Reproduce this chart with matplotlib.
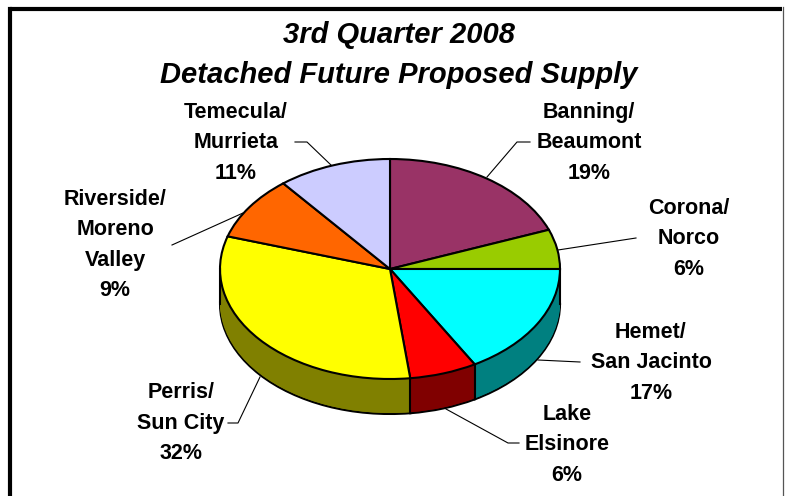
import numpy as np
from matplotlib import pyplot as plt

# Data
cities = ["Banning/\nBeaumont", "Corona/\nNorco", "Hemet/\nSan Jacinto", "Lake\nElsinore",
          "Perris/\nSun City", "Riverside/\nMoreno\nValley", "Temecula/\nMurrieta"]
shares = [19.2, 5.8, 16.7, 6.4, 31.7, 9.4, 10.8]
top_colors = ["#993366", "#99CC00", "#00FFFF", "#FF0000", "#FFFF00", "#FF6600", "#CCCCFF"]
side_colors = ["#4D1A33", "#668000", "#008080", "#800000", "#808000", "#803300", "#666680"]
title_lines = "3rd Quarter 2008\nDetached Future Proposed Supply"

# Where each label sits, in picture pixels
label_pos = [(589, 143), (689, 239), (651, 363), (567, 445), (181, 423), (115, 245), (236, 143)]
leaders = [
    [(487, 177), (517, 142), (530, 142)],
    [(558, 250), (636, 238)],
    [(538, 360), (580, 362)],
    [(446, 409), (508, 443), (519, 443)],
    [(260, 377), (238, 423), (228, 423)],
    [(243, 213), (172, 245)],
    [(332, 166), (307, 142), (295, 142)],
]

W, H = 785, 496
plt.rcParams['font.family'] = ['Liberation Sans', 'DejaVu Sans']
fig = plt.figure(figsize=(W / 100, H / 100), dpi=100)

# Pixel axes for the frame, the text and the leader lines
bg = fig.add_axes([0, 0, 1, 1])
bg.set_xlim(0, W)
bg.set_ylim(H, 0)
bg.axis('off')
bg.plot([10, 10], [9, H], color="black", linewidth=3.0, solid_capstyle="projecting")
bg.plot([10, 782], [9, 9], color="black", linewidth=3.0, solid_capstyle="butt")
bg.plot([783, 783], [7, H], color="#555555", linewidth=0.9)

bg.text(399, 55, title_lines, ha="center", va="center", fontsize=21, fontweight="bold",
        fontstyle="italic", linespacing=1.55)

for name, share, pos, line in zip(cities, shares, label_pos, leaders):
    bg.text(pos[0], pos[1], name + "\n" + "%.0f%%" % share, ha="center", va="center",
            fontsize=15.5, fontweight="bold", linespacing=1.58)
    xs, ys = zip(*line)
    bg.plot(xs, ys, color="black", linewidth=0.8)

# Pie axes, stretched so the circle becomes the tilted ellipse
rx, ry, depth_px = 170, 110, 35
cx, cy = 390, 269
depth = depth_px / ry
xpad, ybot = 1.05, 1.45
left = (cx - rx * xpad) / W
width = 2 * rx * xpad / W
bottom = 1 - (cy + ry * ybot) / H
height = ry * (ybot + xpad) / H
ax = fig.add_axes([left, bottom, width, height])
ax.patch.set_alpha(0)

pie_args = dict(startangle=90, counterclock=False, radius=1)
ax.pie(shares, colors=side_colors, center=(0, -depth),
       wedgeprops=dict(edgecolor="black", linewidth=1.5), **pie_args)
for d in np.arange(depth - 1 / ry, 0, -1 / ry):
    ax.pie(shares, colors=side_colors, center=(0, -d), **pie_args)
wedges, _ = ax.pie(shares, colors=top_colors,
                   wedgeprops=dict(edgecolor="black", linewidth=1.5), **pie_args)

# Upright edges along the front of the rim
ax.plot([-1, -1], [0, -depth], color="black", linewidth=1.5)
ax.plot([1, 1], [0, -depth], color="black", linewidth=1.5)
for w in wedges:
    th = np.radians(w.theta1)
    if np.sin(th) < 0:
        ax.plot([np.cos(th)] * 2, [np.sin(th), np.sin(th) - depth], color="black", linewidth=1.5)

ax.set_aspect('auto')
ax.set_xlim(-xpad, xpad)
ax.set_ylim(-ybot, xpad)

plt.savefig("out.png", dpi=100)
